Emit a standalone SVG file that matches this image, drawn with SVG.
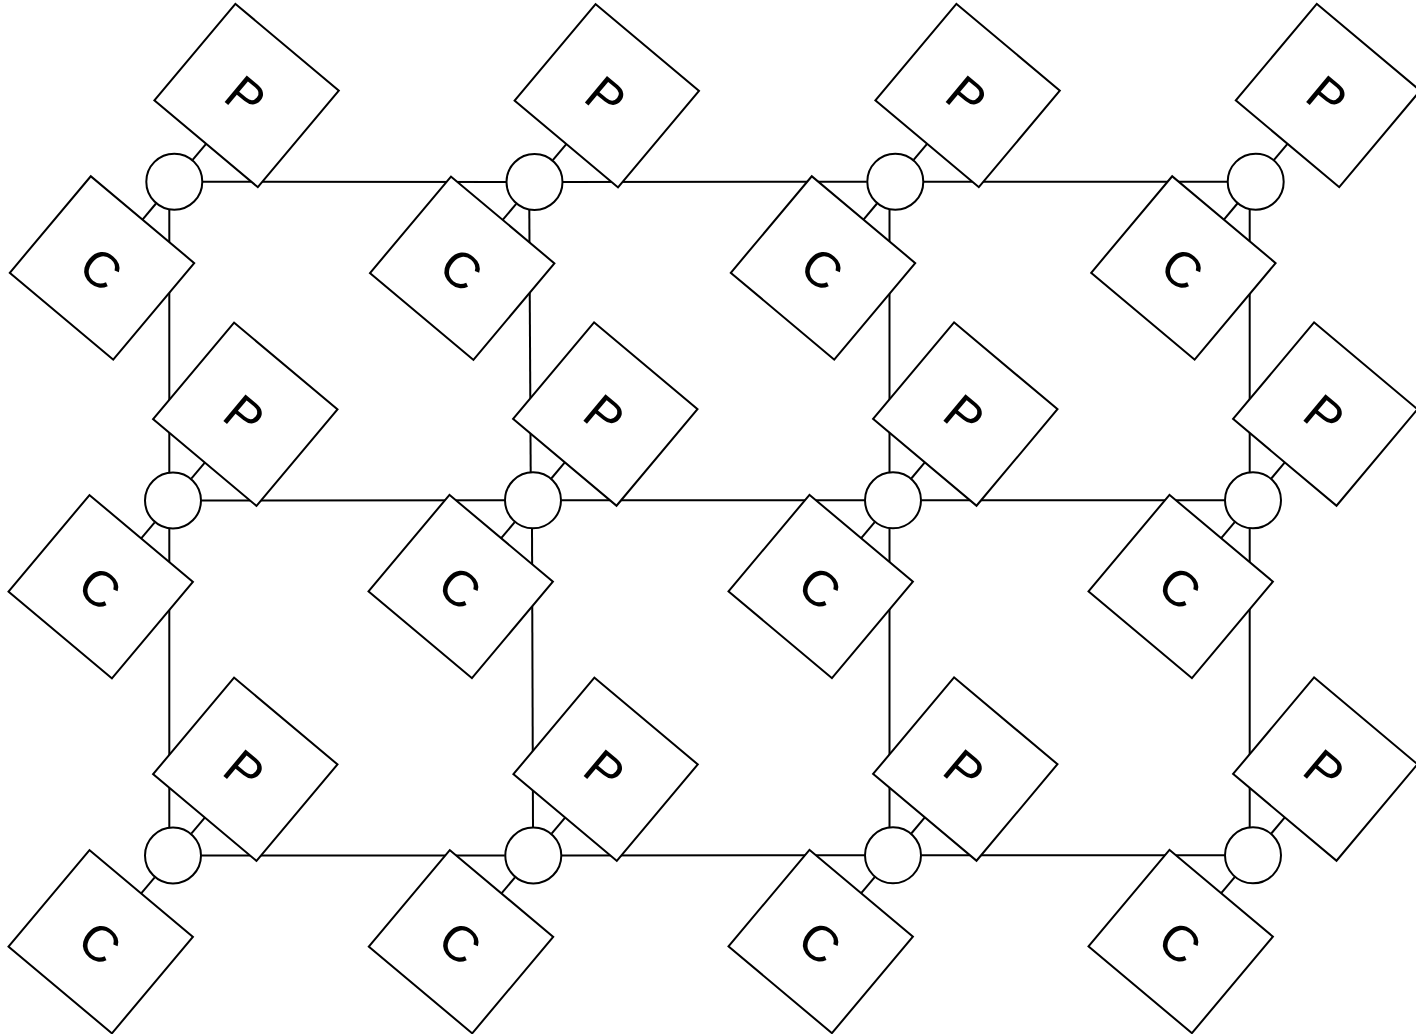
<svg xmlns="http://www.w3.org/2000/svg" width="1416" height="1034" viewBox="0 0 1416 1034">
<style>
.ln{stroke:#000;stroke-width:2;fill:none}
.nd{fill:#fff;stroke:#000;stroke-width:2}
.lb{font-family:"Liberation Sans",Arial,sans-serif;font-size:50px;text-anchor:middle;fill:#000}
</style>
<defs>
<rect id="box" class="nd" x="-67.5" y="-63" width="135" height="126"/>
</defs>
<rect width="1416" height="1034" fill="#fff"/>
<g id="connectors" class="ln">
<line x1="202.8" y1="181.7" x2="506" y2="182"/>
<line x1="563" y1="182" x2="866.8" y2="181.7"/>
<line x1="923.8" y1="181.7" x2="1227.2" y2="181.7"/>
<line x1="201.5" y1="500.5" x2="504.5" y2="500.3"/>
<line x1="561.5" y1="500.3" x2="864.5" y2="500.3"/>
<line x1="921.5" y1="500.3" x2="1224.5" y2="500.3"/>
<line x1="201.5" y1="855.5" x2="504.8" y2="855.5"/>
<line x1="561.8" y1="855.5" x2="864.5" y2="855.3"/>
<line x1="921.5" y1="855.3" x2="1224.5" y2="855.3"/>
<line x1="169.3" y1="209.5" x2="169.3" y2="472.5"/>
<line x1="169.3" y1="528.5" x2="169.3" y2="827.5"/>
<line x1="529.3" y1="209.5" x2="530.7" y2="472.5"/>
<line x1="532" y1="528.3" x2="533" y2="827.5"/>
<line x1="889.5" y1="209.5" x2="889.5" y2="472.5"/>
<line x1="889.5" y1="528.3" x2="889.5" y2="827.3"/>
<line x1="1249.7" y1="209.5" x2="1249.7" y2="472.5"/>
<line x1="1249.7" y1="528.3" x2="1249.7" y2="827.3"/>
<g transform="translate(174.3,181.7)"><line x1="18.3" y1="-21.8" x2="31.8" y2="-37.9"/><line x1="-18.3" y1="21.8" x2="-31.8" y2="37.9"/></g>
<g transform="translate(534.5,182)"><line x1="18.3" y1="-21.8" x2="31.8" y2="-37.9"/><line x1="-18.3" y1="21.8" x2="-31.8" y2="37.9"/></g>
<g transform="translate(895.3,181.7)"><line x1="18.3" y1="-21.8" x2="31.8" y2="-37.9"/><line x1="-18.3" y1="21.8" x2="-31.8" y2="37.9"/></g>
<g transform="translate(1255.7,181.7)"><line x1="18.3" y1="-21.8" x2="31.8" y2="-37.9"/><line x1="-18.3" y1="21.8" x2="-31.8" y2="37.9"/></g>
<g transform="translate(173,500.5)"><line x1="18.3" y1="-21.8" x2="31.8" y2="-37.9"/><line x1="-18.3" y1="21.8" x2="-31.8" y2="37.9"/></g>
<g transform="translate(533,500.3)"><line x1="18.3" y1="-21.8" x2="31.8" y2="-37.9"/><line x1="-18.3" y1="21.8" x2="-31.8" y2="37.9"/></g>
<g transform="translate(893,500.3)"><line x1="18.3" y1="-21.8" x2="31.8" y2="-37.9"/><line x1="-18.3" y1="21.8" x2="-31.8" y2="37.9"/></g>
<g transform="translate(1253,500.3)"><line x1="18.3" y1="-21.8" x2="31.8" y2="-37.9"/><line x1="-18.3" y1="21.8" x2="-31.8" y2="37.9"/></g>
<g transform="translate(173,855.5)"><line x1="18.3" y1="-21.8" x2="31.8" y2="-37.9"/><line x1="-18.3" y1="21.8" x2="-31.8" y2="37.9"/></g>
<g transform="translate(533.3,855.5)"><line x1="18.3" y1="-21.8" x2="31.8" y2="-37.9"/><line x1="-18.3" y1="21.8" x2="-31.8" y2="37.9"/></g>
<g transform="translate(893,855.3)"><line x1="18.3" y1="-21.8" x2="31.8" y2="-37.9"/><line x1="-18.3" y1="21.8" x2="-31.8" y2="37.9"/></g>
<g transform="translate(1253,855.3)"><line x1="18.3" y1="-21.8" x2="31.8" y2="-37.9"/><line x1="-18.3" y1="21.8" x2="-31.8" y2="37.9"/></g>
</g>
<g id="hub-1-1"><circle class="nd" cx="174.3" cy="181.7" r="28"/></g>
<g id="p-1-1" transform="translate(246.6,95.5) rotate(40)"><use href="#box"/><text class="lb" x="0" y="19">P</text></g>
<g id="c-1-1" transform="translate(102,267.9) rotate(40)"><use href="#box"/><text class="lb" x="0" y="19">C</text></g>
<g id="hub-1-2"><circle class="nd" cx="534.5" cy="182" r="28"/></g>
<g id="p-1-2" transform="translate(606.8,95.8) rotate(40)"><use href="#box"/><text class="lb" x="0" y="19">P</text></g>
<g id="c-1-2" transform="translate(462.2,268.2) rotate(40)"><use href="#box"/><text class="lb" x="0" y="19">C</text></g>
<g id="hub-1-3"><circle class="nd" cx="895.3" cy="181.7" r="28"/></g>
<g id="p-1-3" transform="translate(967.6,95.5) rotate(40)"><use href="#box"/><text class="lb" x="0" y="19">P</text></g>
<g id="c-1-3" transform="translate(823,267.9) rotate(40)"><use href="#box"/><text class="lb" x="0" y="19">C</text></g>
<g id="hub-1-4"><circle class="nd" cx="1255.7" cy="181.7" r="28"/></g>
<g id="p-1-4" transform="translate(1328,95.5) rotate(40)"><use href="#box"/><text class="lb" x="0" y="19">P</text></g>
<g id="c-1-4" transform="translate(1183.4,267.9) rotate(40)"><use href="#box"/><text class="lb" x="0" y="19">C</text></g>
<g id="hub-2-1"><circle class="nd" cx="173" cy="500.5" r="28"/></g>
<g id="p-2-1" transform="translate(245.3,414.3) rotate(40)"><use href="#box"/><text class="lb" x="0" y="19">P</text></g>
<g id="c-2-1" transform="translate(100.7,586.7) rotate(40)"><use href="#box"/><text class="lb" x="0" y="19">C</text></g>
<g id="hub-2-2"><circle class="nd" cx="533" cy="500.3" r="28"/></g>
<g id="p-2-2" transform="translate(605.3,414.1) rotate(40)"><use href="#box"/><text class="lb" x="0" y="19">P</text></g>
<g id="c-2-2" transform="translate(460.7,586.5) rotate(40)"><use href="#box"/><text class="lb" x="0" y="19">C</text></g>
<g id="hub-2-3"><circle class="nd" cx="893" cy="500.3" r="28"/></g>
<g id="p-2-3" transform="translate(965.3,414.1) rotate(40)"><use href="#box"/><text class="lb" x="0" y="19">P</text></g>
<g id="c-2-3" transform="translate(820.7,586.5) rotate(40)"><use href="#box"/><text class="lb" x="0" y="19">C</text></g>
<g id="hub-2-4"><circle class="nd" cx="1253" cy="500.3" r="28"/></g>
<g id="p-2-4" transform="translate(1325.3,414.1) rotate(40)"><use href="#box"/><text class="lb" x="0" y="19">P</text></g>
<g id="c-2-4" transform="translate(1180.7,586.5) rotate(40)"><use href="#box"/><text class="lb" x="0" y="19">C</text></g>
<g id="hub-3-1"><circle class="nd" cx="173" cy="855.5" r="28"/></g>
<g id="p-3-1" transform="translate(245.3,769.3) rotate(40)"><use href="#box"/><text class="lb" x="0" y="19">P</text></g>
<g id="c-3-1" transform="translate(100.7,941.7) rotate(40)"><use href="#box"/><text class="lb" x="0" y="19">C</text></g>
<g id="hub-3-2"><circle class="nd" cx="533.3" cy="855.5" r="28"/></g>
<g id="p-3-2" transform="translate(605.6,769.3) rotate(40)"><use href="#box"/><text class="lb" x="0" y="19">P</text></g>
<g id="c-3-2" transform="translate(461,941.7) rotate(40)"><use href="#box"/><text class="lb" x="0" y="19">C</text></g>
<g id="hub-3-3"><circle class="nd" cx="893" cy="855.3" r="28"/></g>
<g id="p-3-3" transform="translate(965.3,769.1) rotate(40)"><use href="#box"/><text class="lb" x="0" y="19">P</text></g>
<g id="c-3-3" transform="translate(820.7,941.5) rotate(40)"><use href="#box"/><text class="lb" x="0" y="19">C</text></g>
<g id="hub-3-4"><circle class="nd" cx="1253" cy="855.3" r="28"/></g>
<g id="p-3-4" transform="translate(1325.3,769.1) rotate(40)"><use href="#box"/><text class="lb" x="0" y="19">P</text></g>
<g id="c-3-4" transform="translate(1180.7,941.5) rotate(40)"><use href="#box"/><text class="lb" x="0" y="19">C</text></g>
</svg>
